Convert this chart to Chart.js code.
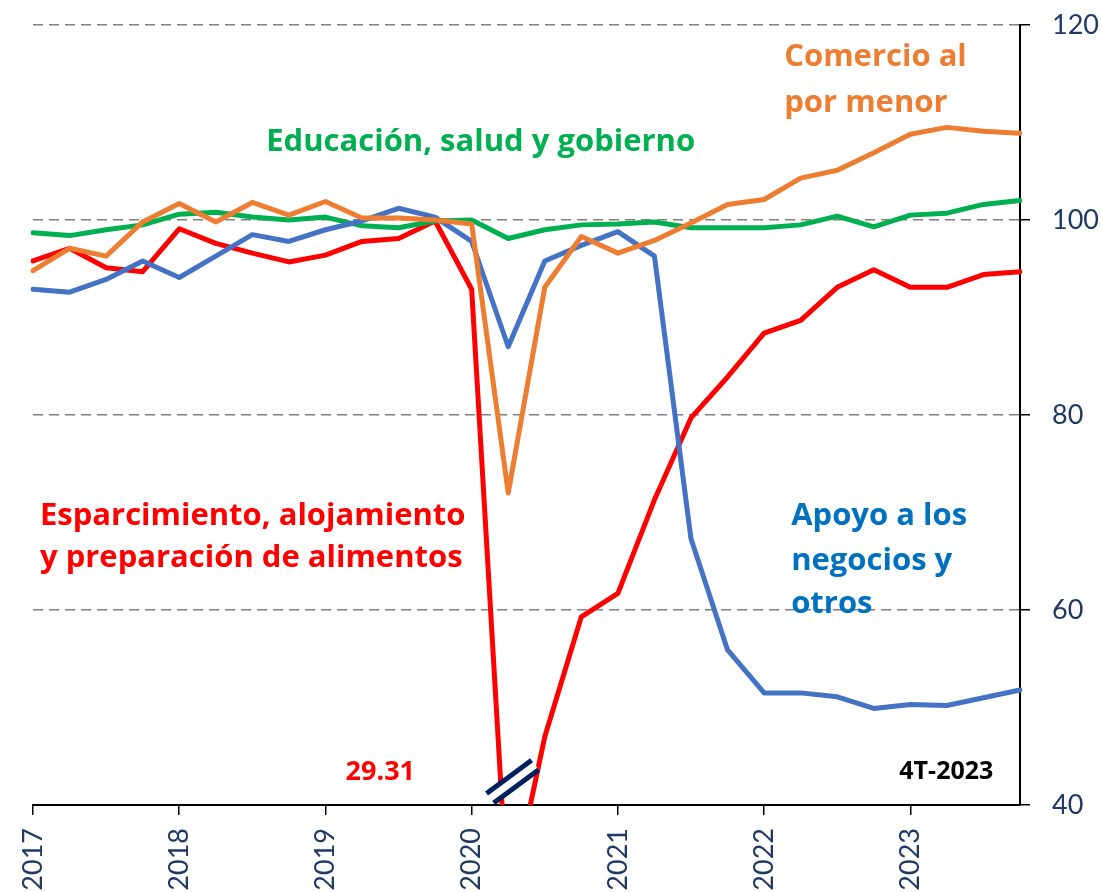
<!DOCTYPE html>
<html>
<head>
<meta charset="utf-8">
<script src="https://cdn.jsdelivr.net/npm/chart.js@4.4.1/dist/chart.umd.min.js"></script>
<style>
html, body { margin: 0; padding: 0; background: #fff; overflow: hidden; }
#contenitore { width: 1102px; height: 892px; }
</style>
</head>
<body>
<div id="contenitore"><canvas id="grafico"></canvas></div>
<script>
// trimestri (asse x)
var trimestri = [
    '1T-2017', '2T-2017', '3T-2017', '4T-2017',
    '1T-2018', '2T-2018', '3T-2018', '4T-2018',
    '1T-2019', '2T-2019', '3T-2019', '4T-2019',
    '1T-2020', '2T-2020', '3T-2020', '4T-2020',
    '1T-2021', '2T-2021', '3T-2021', '4T-2021',
    '1T-2022', '2T-2022', '3T-2022', '4T-2022',
    '1T-2023', '2T-2023', '3T-2023', '4T-2023'
];

// serie (indice, 4T-2019 = 100)
var comercio = [94.8, 97.1, 96.3, 99.8, 101.7, 99.8, 101.8, 100.5, 101.9, 100.2, 100.2, 100.0, 99.6, 72.0,
    93.1, 98.3, 96.6, 97.9, 99.7, 101.6, 102.1, 104.3, 105.1, 106.9, 108.8, 109.5, 109.1, 108.9];
var educacion = [98.7, 98.4, 99.0, 99.5, 100.6, 100.8, 100.3, 100.0, 100.3, 99.4, 99.2, 99.9, 100.0, 98.1,
    99.0, 99.5, 99.6, 99.8, 99.2, 99.2, 99.2, 99.5, 100.4, 99.3, 100.5, 100.7, 101.6, 102.0];
var esparcimiento = [95.8, 97.1, 95.1, 94.7, 99.1, 97.6, 96.6, 95.7, 96.4, 97.8, 98.1, 99.9, 92.9, 29.31,
    47.0, 59.3, 61.7, 71.3, 79.7, 83.9, 88.4, 89.7, 93.1, 94.9, 93.1, 93.1, 94.4, 94.7];
var apoyo = [92.9, 92.6, 93.9, 95.8, 94.1, 96.3, 98.5, 97.8, 99.0, 99.9, 101.2, 100.3, 97.8, 87.0,
    95.8, 97.4, 98.8, 96.3, 67.3, 55.9, 51.5, 51.5, 51.1, 49.9, 50.3, 50.2, 51.0, 51.8];

// asse y
var yMin = 40;
var yMax = 120;
var yPasso = 20;

var coloreAssi = '#1F3864';

function inizioAnno(label) {
    return label && label.indexOf('1T') === 0;
}

// testi e simbolo di interruzione
var annotazioni = {
    id: 'annotazioni',
    afterDatasetsDraw: function(chart) {
        var ctx = chart.ctx;
        var xs = chart.scales.x;
        var ys = chart.scales.y;

        // simbolo di interruzione sull'asse
        var cx = xs.getPixelForValue(13.12);
        var cy = ys.getPixelForValue(42.4);
        var dx = 0.804, dy = -0.594;
        var nx = 0.594, ny = 0.804;
        var mezzo = 28;
        ctx.save();
        ctx.lineCap = 'butt';
        ctx.strokeStyle = '#ffffff';
        ctx.lineWidth = 9;
        ctx.beginPath();
        ctx.moveTo(cx - dx * mezzo, cy - dy * mezzo);
        ctx.lineTo(cx + dx * mezzo, cy + dy * mezzo);
        ctx.stroke();
        ctx.strokeStyle = '#002060';
        ctx.lineWidth = 5;
        [-6, 6].forEach(function(o) {
            ctx.beginPath();
            ctx.moveTo(cx + nx * o - dx * mezzo, cy + ny * o - dy * mezzo);
            ctx.lineTo(cx + nx * o + dx * mezzo, cy + ny * o + dy * mezzo);
            ctx.stroke();
        });
        ctx.restore();

        var testi = [
            { t: 'Comercio al', x: 20.55, y: 116.7, c: '#ED7D31', s: 31, a: 'left' },
            { t: 'por menor', x: 20.55, y: 112.0, c: '#ED7D31', s: 31, a: 'left' },
            { t: 'Educación, salud y gobierno', x: 6.38, y: 108.0, c: '#00B050', s: 31, a: 'left' },
            { t: 'Esparcimiento, alojamiento', x: 0.19, y: 69.6, c: '#FF0000', s: 31, a: 'left' },
            { t: 'y preparación de alimentos', x: 0.19, y: 65.3, c: '#FF0000', s: 31, a: 'left' },
            { t: 'Apoyo a los', x: 20.74, y: 69.6, c: '#0070C0', s: 31, a: 'left' },
            { t: 'negocios y', x: 20.74, y: 65.0, c: '#0070C0', s: 31, a: 'left' },
            { t: 'otros', x: 20.74, y: 60.6, c: '#0070C0', s: 31, a: 'left' },
            { t: '29.31', x: 8.55, y: 43.4, c: '#FF0000', s: 27, a: 'left' },
            { t: '4T-2023', x: 26.27, y: 43.4, c: '#000000', s: 25, a: 'right' }
        ];
        ctx.save();
        ctx.textBaseline = 'middle';
        testi.forEach(function(e) {
            ctx.font = 'bold ' + e.s + 'px "Open Sans"';
            ctx.fillStyle = e.c;
            ctx.textAlign = e.a;
            ctx.fillText(e.t, xs.getPixelForValue(e.x), ys.getPixelForValue(e.y));
        });
        ctx.restore();
    }
};

var ctx = document.getElementById('grafico');
var grafico = new Chart(ctx, {
    type: 'line',
    data: {
        labels: trimestri,
        datasets: [
            { label: 'Comercio al por menor', data: comercio, borderColor: '#ED7D31', order: 0 },
            { label: 'Apoyo a los negocios y otros', data: apoyo, borderColor: '#4472C4', order: 1 },
            { label: 'Educación, salud y gobierno', data: educacion, borderColor: '#00B050', order: 2 },
            { label: 'Esparcimiento, alojamiento y preparación de alimentos', data: esparcimiento, borderColor: '#FF0000', order: 3 }
        ]
    },
    options: {
        responsive: true,
        maintainAspectRatio: false,
        animation: false,
        layout: { padding: { top: 25, left: 33, right: 0, bottom: 0 } },
        elements: {
            line: { borderWidth: 5, tension: 0, borderJoinStyle: 'round', borderCapStyle: 'round', fill: false },
            point: { radius: 0, hoverRadius: 0 }
        },
        plugins: {
            legend: { display: false },
            tooltip: { enabled: false }
        },
        scales: {
            x: {
                type: 'category',
                offset: false,
                grid: {
                    display: true,
                    drawOnChartArea: false,
                    drawTicks: true,
                    tickLength: 10,
                    lineWidth: 1.5,
                    tickColor: function(c) {
                        return inizioAnno(trimestri[c.index]) ? '#000000' : 'rgba(0,0,0,0)';
                    }
                },
                border: { display: true, color: '#000000', width: 2 },
                ticks: {
                    autoSkip: false,
                    maxRotation: 90,
                    minRotation: 90,
                    padding: 13,
                    color: coloreAssi,
                    font: { family: 'Lato', size: 27 },
                    callback: function(v) {
                        var l = this.getLabelForValue(v);
                        return inizioAnno(l) ? l.slice(3) : '';
                    }
                },
                afterFit: function(s) { s.height = 87; }
            },
            y: {
                position: 'right',
                min: yMin,
                max: yMax,
                grid: {
                    color: function(c) {
                        return c.tick && c.tick.value === yMin ? 'rgba(0,0,0,0)' : '#808080';
                    },
                    lineWidth: 1.5,
                    tickColor: '#000000',
                    tickLength: 10,
                    tickBorderDash: []
                },
                border: { display: true, color: '#000000', width: 2, dash: [10, 6] },
                ticks: {
                    stepSize: yPasso,
                    padding: 22,
                    color: coloreAssi,
                    font: { family: 'Lato', size: 27 }
                },
                afterFit: function(s) {
                    s.width = 82;
                    s.paddingTop = 0;
                    s.paddingBottom = 0;
                }
            }
        }
    },
    plugins: [annotazioni]
});
</script>
</body>
</html>
